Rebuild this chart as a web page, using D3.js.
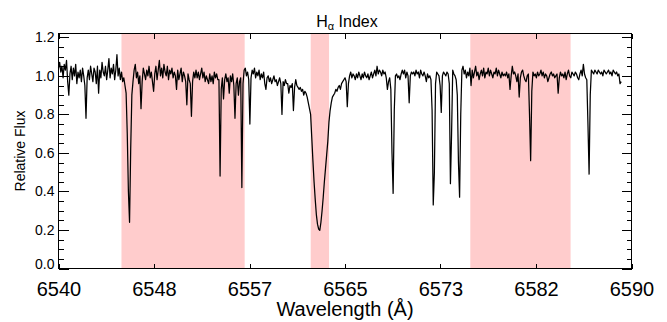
<!DOCTYPE html>
<html>
<head>
<meta charset="utf-8">
<script src="https://cdn.jsdelivr.net/npm/d3@7"></script>
<style>
body { margin: 0; background: #fff; }
svg { display: block; font-family: "Liberation Sans", Arial, Helvetica, sans-serif; }
.axis path.domain { display: none; }
.axis line { stroke: #000; shape-rendering: crispEdges; }
.axis text { fill: #000; }
</style>
</head>
<body>
<svg id="chart" width="667" height="322"></svg>
<script>
// spectrum sampled every 0.1 A starting at 6540 A (one row per Angstrom)
var waveStart = 6540.0, waveStep = 0.1;
var flux = [
  1.04, 1.07, 1.02, 1.05, 0.99, 1.06, 1.03, 1.08, 0.97, 0.90,
  1.01, 1.05, 0.98, 1.04, 1.00, 1.06, 0.96, 1.02, 0.99, 1.03,
  0.97, 1.04, 1.00, 0.95, 0.78, 0.99, 1.03, 0.98, 1.05, 1.01,
  0.97, 1.04, 1.02, 0.96, 1.05, 0.91, 1.03, 0.99, 1.07, 1.02,
  1.00, 1.05, 0.98, 1.03, 1.09, 0.99, 1.04, 1.01, 1.06, 0.98,
  1.03, 1.11, 1.00, 1.04, 0.98, 1.02, 0.97, 0.99, 0.95, 0.91,
  0.70, 0.40, 0.24, 0.62, 0.90, 0.97, 1.03, 1.06, 0.99, 1.02,
  0.96, 1.00, 0.83, 0.97, 1.04, 1.01, 0.98, 1.03, 1.00, 1.05,
  0.99, 1.02, 0.97, 0.92, 1.01, 1.05, 0.98, 1.03, 1.08, 1.00,
  1.04, 0.99, 1.06, 1.02, 1.00, 1.05, 0.98, 1.03, 1.01, 1.04,
  0.99, 1.02, 1.00, 0.93, 1.03, 0.98, 1.01, 1.04, 0.97, 1.02,
  1.00, 0.97, 0.85, 1.01, 0.98, 0.96, 0.79, 0.97, 1.02, 0.99,
  1.03, 0.99, 1.02, 0.98, 1.01, 1.04, 0.99, 1.02, 0.97, 1.00,
  0.98, 0.96, 1.01, 0.97, 1.00, 0.96, 1.02, 0.99, 1.01, 0.98,
  0.98, 0.48, 0.93, 0.99, 0.88, 0.98, 1.01, 0.97, 0.99, 0.91,
  1.00, 0.97, 1.01, 0.95, 0.78, 0.96, 0.99, 0.90, 0.97, 0.99,
  0.42, 0.96, 1.03, 1.04, 1.00, 1.02, 0.98, 0.75, 0.99, 1.03,
  1.01, 1.04, 0.99, 1.02, 1.00, 1.03, 0.98, 1.01, 0.99, 1.02,
  0.96, 0.93, 0.99, 1.00, 0.97, 0.99, 0.96, 0.98, 1.00, 0.97,
  0.98, 0.95, 0.97, 0.99, 0.96, 0.80, 0.97, 0.95, 0.98, 0.96,
  0.96, 0.91, 0.95, 0.94, 0.96, 0.82, 0.94, 0.98, 0.95, 0.94,
  0.93, 0.94, 0.92, 0.93, 0.90, 0.92, 0.91, 0.89, 0.86, 0.83,
  0.80, 0.68, 0.56, 0.45, 0.36, 0.28, 0.23, 0.205, 0.198, 0.24,
  0.30, 0.37, 0.45, 0.52, 0.59, 0.66, 0.76, 0.82, 0.86, 0.89,
  0.90, 0.91, 0.93, 0.92, 0.94, 0.95, 0.93, 0.96, 0.97, 0.98,
  0.99, 0.97, 0.84, 0.96, 1.00, 1.02, 0.99, 1.01, 1.00, 0.98,
  1.01, 0.99, 1.02, 1.00, 0.98, 1.01, 0.99, 1.02, 1.00, 0.99,
  1.01, 0.98, 1.00, 1.02, 0.99, 1.01, 1.03, 1.00, 1.05, 1.01,
  1.03, 1.02, 1.00, 1.03, 1.01, 1.02, 0.99, 0.93, 0.97, 0.99,
  0.93, 0.60, 0.39, 0.82, 1.00, 1.01, 0.99, 1.00, 0.98, 1.01,
  1.03, 1.01, 1.03, 0.99, 1.02, 1.00, 0.86, 1.00, 1.02, 1.01,
  1.02, 1.00, 1.03, 1.01, 1.02, 0.99, 1.03, 1.01, 1.00, 1.02,
  1.00, 0.97, 1.01, 0.99, 1.00, 0.98, 0.82, 0.33, 0.50, 0.96,
  1.02, 1.01, 1.00, 0.95, 0.81, 1.00, 1.02, 1.01, 1.00, 1.02,
  1.01, 0.96, 0.44, 0.70, 1.03, 1.01, 1.00, 0.98, 0.90, 0.55,
  0.37, 0.80, 1.03, 1.05, 1.01, 1.03, 0.99, 1.02, 1.00, 1.04,
  0.95, 1.03, 0.99, 1.02, 1.05, 1.00, 1.02, 0.98, 1.01, 1.03,
  1.00, 1.04, 0.99, 1.02, 1.01, 1.04, 1.00, 1.03, 1.01, 0.99,
  1.02, 1.01, 1.04, 1.00, 1.03, 1.01, 0.99, 1.02, 1.00, 1.01,
  1.00, 1.02, 0.99, 1.01, 0.93, 1.00, 1.05, 1.01, 1.02, 1.00,
  0.97, 1.01, 0.89, 0.99, 1.02, 1.03, 1.00, 0.98, 0.97, 1.00,
  1.01, 0.80, 0.56, 0.92, 1.02, 1.00, 1.01, 0.99, 1.02, 1.00,
  1.01, 1.03, 1.00, 1.02, 0.99, 1.01, 1.00, 0.97, 0.99, 1.01,
  1.02, 1.00, 1.01, 0.99, 1.00, 1.01, 0.91, 0.99, 1.02, 1.00,
  1.01, 0.99, 1.02, 0.98, 1.01, 1.03, 1.00, 0.99, 1.02, 1.01,
  1.00, 1.02, 1.01, 0.99, 0.98, 1.01, 1.03, 1.00, 1.06, 1.01,
  0.99, 0.98, 0.75, 0.49, 0.90, 1.03, 1.02, 1.01, 1.03, 1.02,
  1.01, 1.03, 1.02, 1.01, 1.02, 1.00, 1.03, 1.02, 1.01, 1.02,
  1.03, 1.01, 1.02, 1.00, 1.03, 1.02, 1.01, 1.02, 1.00, 1.01,
  0.96, 0.97
];

// index bands (blue continuum, H-alpha core, red continuum)
var bandLo = [6545.495, 6562.008, 6575.934];
var bandHi = [6556.245, 6563.608, 6584.684];

var xTicks = [6540, 6548.333, 6556.667, 6565, 6573.333, 6581.667, 6590];
var xTickLabels = ["6540", "6548", "6557", "6565", "6573", "6582", "6590"];
var yTicks = [0, 0.2, 0.4, 0.6, 0.8, 1.0, 1.2];
var yMinorTicks = [0.05, 0.1, 0.15, 0.25, 0.3, 0.35, 0.45, 0.5, 0.55, 0.65, 0.7, 0.75,
                   0.85, 0.9, 0.95, 1.05, 1.1, 1.15];

var svg = d3.select("#chart"),
    margin = {top: 33.5, right: 35.5, bottom: 53.5, left: 58.5},
    width = +svg.attr("width") - margin.left - margin.right,
    height = +svg.attr("height") - margin.top - margin.bottom;

var x = d3.scaleLinear().domain([6540, 6590]).range([0, width]);
var y = d3.scaleLinear().domain([0, 1.22]).range([height, 0]);

var g = svg.append("g")
    .attr("transform", "translate(" + margin.left + "," + margin.top + ")");

g.selectAll(".band")
    .data(d3.zip(bandLo, bandHi))
  .enter().append("rect")
    .attr("class", "band")
    .attr("x", function(d) { return x(d[0]); })
    .attr("width", function(d) { return x(d[1]) - x(d[0]); })
    .attr("y", 0)
    .attr("height", height)
    .attr("fill", "#ffcccc");

var line = d3.line()
    .x(function(d, i) { return x(waveStart + i * waveStep); })
    .y(function(d) { return y(d); });

g.append("path")
    .datum(flux)
    .attr("d", line)
    .attr("fill", "none")
    .attr("stroke", "#000")
    .attr("stroke-width", 1.25)
    .attr("stroke-linejoin", "round");

// axes, ticks pointing inward on all four sides
g.append("g")
    .attr("class", "axis")
    .attr("transform", "translate(0," + height + ")")
    .call(d3.axisBottom(x)
            .tickValues(xTicks)
            .tickFormat(function(d, i) { return xTickLabels[i]; })
            .tickSizeInner(-5).tickSizeOuter(0).tickPadding(13))
    .attr("font-size", 20).attr("font-family", null);

g.append("g")
    .attr("class", "axis")
    .call(d3.axisTop(x).tickValues(xTicks).tickFormat("")
            .tickSizeInner(-5).tickSizeOuter(0));

var yAxisG = g.append("g")
    .attr("class", "axis")
    .call(d3.axisLeft(y)
            .tickValues(yTicks)
            .tickFormat(d3.format(".1f"))
            .tickSizeInner(-10).tickSizeOuter(0).tickPadding(4))
    .attr("font-size", 14).attr("font-family", null);

// the 0.0 label sits a little above the bottom axis
yAxisG.selectAll(".tick text")
    .filter(function(d) { return d === 0; })
    .attr("y", -4);

g.append("g")
    .attr("class", "axis")
    .call(d3.axisLeft(y).tickValues(yMinorTicks).tickFormat("")
            .tickSizeInner(-5).tickSizeOuter(0));

g.append("g")
    .attr("class", "axis")
    .attr("transform", "translate(" + width + ",0)")
    .call(d3.axisRight(y).tickValues(yTicks).tickFormat("")
            .tickSizeInner(-10).tickSizeOuter(0));

g.append("g")
    .attr("class", "axis")
    .attr("transform", "translate(" + width + ",0)")
    .call(d3.axisRight(y).tickValues(yMinorTicks).tickFormat("")
            .tickSizeInner(-5).tickSizeOuter(0));

g.append("rect")
    .attr("width", width)
    .attr("height", height)
    .attr("fill", "none")
    .attr("stroke", "#000")
    .attr("shape-rendering", "crispEdges");

// title with subscript alpha
var title = svg.append("text")
    .attr("x", margin.left + width / 2 + 2)
    .attr("y", 27)
    .attr("text-anchor", "middle")
    .style("font-size", "16px");
title.append("tspan").text("H");
title.append("tspan").attr("dy", 3).style("font-size", "11px").text("α");
title.append("tspan").attr("dy", -3).text(" Index");

svg.append("text")
    .attr("x", margin.left + width / 2)
    .attr("y", 316)
    .attr("text-anchor", "middle")
    .style("font-size", "20px")
    .text("Wavelength (Å)");

svg.append("text")
    .attr("transform", "translate(25," + (margin.top + height / 2) + ") rotate(-90)")
    .attr("text-anchor", "middle")
    .style("font-size", "14px")
    .text("Relative Flux");
</script>
</body>
</html>
